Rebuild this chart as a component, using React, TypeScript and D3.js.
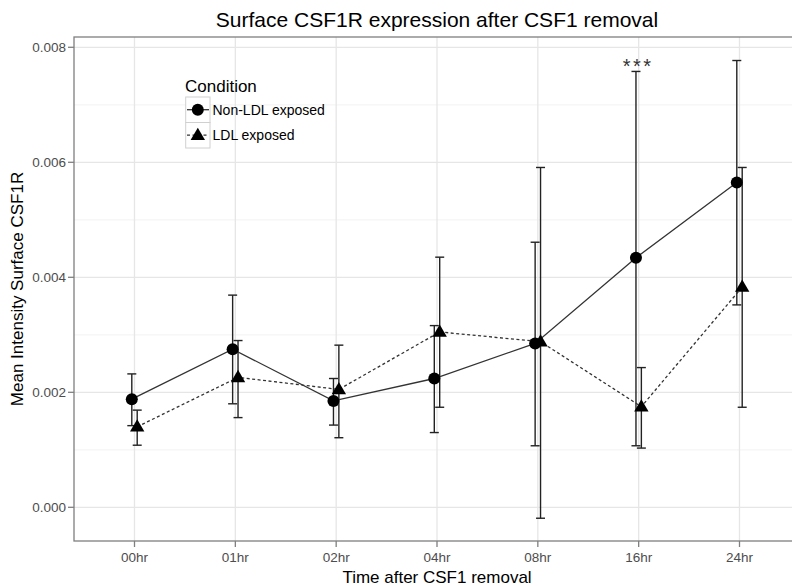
import React from 'react';
import * as d3 from 'd3';

const categories = ['00hr', '01hr', '02hr', '04hr', '08hr', '16hr', '24hr'];
const nonLdlMean = [0.00188, 0.00275, 0.00185, 0.00224, 0.00285, 0.00434, 0.00565];
const nonLdlUpper = [0.00232, 0.00369, 0.00224, 0.00316, 0.00461, 0.00758, 0.00777];
const nonLdlLower = [0.00142, 0.0018, 0.00143, 0.0013, 0.00107, 0.00107, 0.00352];
const ldlMean = [0.0014, 0.00226, 0.00205, 0.00305, 0.00288, 0.00175, 0.00383];
const ldlUpper = [0.00169, 0.0029, 0.00282, 0.00435, 0.00591, 0.00243, 0.00591];
const ldlLower = [0.00108, 0.00156, 0.00121, 0.00174, -0.00019, 0.00103, 0.00174];
const yTicks = [0, 0.002, 0.004, 0.006, 0.008];
const yMinor = [0.001, 0.003, 0.005, 0.007];
const seriesNames = ['Non-LDL exposed', 'LDL exposed'];
const legendTitle = 'Condition';
const titleText = 'Surface CSF1R expression after CSF1 removal';
const xTitle = 'Time after CSF1 removal';
const yTitle = 'Mean Intensity Surface CSF1R';
const sigLabel = '***';
const sigCategory = '16hr';

const W = 792;
const H = 586;
const P = { left: 74, right: 800, top: 37, bottom: 541 };
const FONT = '"Liberation Sans", Arial, Helvetica, sans-serif';

const x = d3.scalePoint<string>().domain(categories).range([P.left, P.right]).padding(0.6);
const y = d3.scaleLinear().domain([-0.000586, 0.008179]).range([P.bottom, P.top]);
const DODGE = 2.7;
const CAP = 4.5;

const triPath = 'M0,-7.5L7.2,4.8L-7.2,4.8Z';

export default function App() {
  const series = [
    { name: seriesNames[0], mean: nonLdlMean, up: nonLdlUpper, lo: nonLdlLower, dx: -DODGE, dash: undefined as string | undefined, shape: 'circle' },
    { name: seriesNames[1], mean: ldlMean, up: ldlUpper, lo: ldlLower, dx: DODGE, dash: '3,2.5', shape: 'triangle' },
  ];
  return (
    <svg width={W} height={H} style={{ position: 'absolute', left: 0, top: 0, background: '#fff' }} fontFamily={FONT}>
      <rect x={0} y={0} width={W} height={H} fill="#fff" />
      {/* title */}
      <text x={(P.left + P.right) / 2} y={27} textAnchor="middle" fontSize={21} fill="#000">{titleText}</text>
      {/* panel */}
      <rect x={P.left} y={P.top} width={P.right - P.left} height={P.bottom - P.top} fill="#fff" />
      {yMinor.map((t) => (
        <line key={'mi' + t} x1={P.left} x2={P.right} y1={y(t)} y2={y(t)} stroke="#f5f5f5" strokeWidth={1.2} />
      ))}
      {yTicks.map((t) => (
        <line key={'ma' + t} x1={P.left} x2={P.right} y1={y(t)} y2={y(t)} stroke="#e6e6e6" strokeWidth={1.3} />
      ))}
      {categories.map((c) => (
        <line key={'vx' + c} x1={x(c)} x2={x(c)} y1={P.top} y2={P.bottom} stroke="#e6e6e6" strokeWidth={1.3} />
      ))}
      {/* error bars */}
      {series.map((s) => (
        <g key={'eb' + s.name} stroke="#222" strokeWidth={1.4} fill="none">
          {categories.map((c, i) => {
            const cx = (x(c) as number) + s.dx;
            return (
              <g key={c}>
                <line x1={cx} x2={cx} y1={y(s.up[i])} y2={y(s.lo[i])} />
                <line x1={cx - CAP} x2={cx + CAP} y1={y(s.up[i])} y2={y(s.up[i])} />
                <line x1={cx - CAP} x2={cx + CAP} y1={y(s.lo[i])} y2={y(s.lo[i])} />
              </g>
            );
          })}
        </g>
      ))}
      {/* lines */}
      {series.map((s) => {
        const ln = d3.line<number>()
          .x((_, i) => (x(categories[i]) as number) + s.dx)
          .y((d) => y(d));
        return (
          <path key={'ln' + s.name} d={ln(s.mean) || ''} fill="none" stroke="#333" strokeWidth={1.3} strokeDasharray={s.dash} />
        );
      })}
      {/* points */}
      {series.map((s) => (
        <g key={'pt' + s.name} fill="#000">
          {categories.map((c, i) => {
            const cx = (x(c) as number) + s.dx;
            const cy = y(s.mean[i]);
            return s.shape === 'circle'
              ? <circle key={c} cx={cx} cy={cy} r={6} />
              : <path key={c} d={triPath} transform={`translate(${cx},${cy})`} />;
          })}
        </g>
      ))}
      {/* significance */}
      <text x={(x(sigCategory) as number) - 0.5} y={73} textAnchor="middle" fontSize={20} letterSpacing={2.5} fill="#333">{sigLabel}</text>
      {/* panel border */}
      <rect x={P.left} y={P.top} width={P.right - P.left} height={P.bottom - P.top} fill="none" stroke="#7f7f7f" strokeWidth={1.3} />
      {/* y axis */}
      {yTicks.map((t) => (
        <g key={'yt' + t}>
          <line x1={P.left - 6} x2={P.left} y1={y(t)} y2={y(t)} stroke="#7f7f7f" strokeWidth={1.3} />
          <text x={P.left - 8} y={y(t)} dy="0.35em" textAnchor="end" fontSize={13.5} fill="#4d4d4d">{d3.format('.3f')(t)}</text>
        </g>
      ))}
      {/* x axis */}
      {categories.map((c) => (
        <g key={'xt' + c}>
          <line x1={x(c)} x2={x(c)} y1={P.bottom} y2={P.bottom + 6} stroke="#7f7f7f" strokeWidth={1.3} />
          <text x={x(c)} y={562} textAnchor="middle" fontSize={13.5} fill="#4d4d4d">{c}</text>
        </g>
      ))}
      <text x={(P.left + P.right) / 2} y={583} textAnchor="middle" fontSize={17} fill="#000">{xTitle}</text>
      <text transform={`translate(23,${(P.top + P.bottom) / 2}) rotate(-90)`} textAnchor="middle" fontSize={17} fill="#000">{yTitle}</text>
      {/* legend */}
      <g>
        <text x={185} y={92} fontSize={17} fill="#000">{legendTitle}</text>
        {series.map((s, i) => {
          const ky = 97 + i * 25.5;
          const cx = 197.8;
          const cy = ky + 12.7;
          return (
            <g key={'lg' + s.name}>
              <rect x={185.7} y={ky} width={24.3} height={25.5} fill="#fff" stroke="#d0d0d0" strokeWidth={1} />
              <line x1={187} x2={209} y1={cy} y2={cy} stroke="#333" strokeWidth={1.3} strokeDasharray={s.dash} />
              {s.shape === 'circle'
                ? <circle cx={cx} cy={cy} r={6} fill="#000" />
                : <path d={triPath} transform={`translate(${cx},${cy})`} fill="#000" />}
              <text x={212.5} y={cy} dy="0.35em" fontSize={14} fill="#000">{s.name}</text>
            </g>
          );
        })}
      </g>
    </svg>
  );
}
